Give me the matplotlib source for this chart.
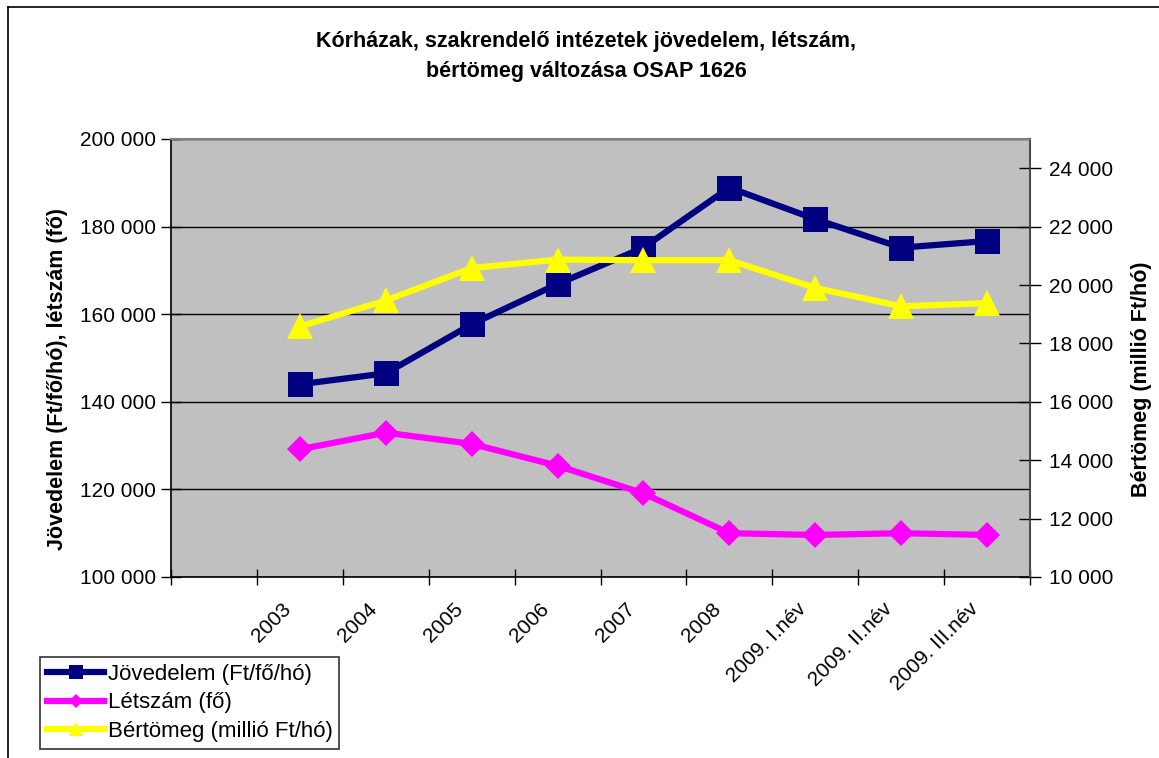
import numpy as np
import matplotlib
matplotlib.use('Agg')
import matplotlib.pyplot as plt
from matplotlib.ticker import FuncFormatter, FixedLocator
from matplotlib.lines import Line2D
import matplotlib.transforms as mtransforms

plt.rcParams['font.family'] = ['Liberation Sans', 'DejaVu Sans']

# Data
categories = ['2003', '2004', '2005', '2006', '2007', '2008',
              '2009. I.név', '2009. II.név', '2009. III.név']
jovedelem = [144000, 146500, 157700, 166900, 175200, 188900, 181700, 175200, 176700]
letszam = [129150, 132950, 130400, 125400, 119100, 110000, 109600, 110000, 109600]
bertomeg = [18580, 19470, 20580, 20870, 20850, 20850, 19900, 19270, 19380]

W, H = 1159, 758
fig = plt.figure(figsize=(W / 100, H / 100), dpi=100)
fig.patch.set_facecolor('white')

# Outer frame (only left and top edges visible)
fig.add_artist(Line2D([8 / W, 8 / W], [0, 1 - 7 / H], transform=fig.transFigure, color='black', lw=1.2))
fig.add_artist(Line2D([8 / W, 1], [1 - 7 / H, 1 - 7 / H], transform=fig.transFigure, color='black', lw=1.2))

left, right, bottom, top = 171 / W, 1030 / W, 1 - 577 / H, 1 - 139 / H
ax = fig.add_axes([left, bottom, right - left, top - bottom])
ax.set_facecolor('#C0C0C0')
ax2 = ax.twinx()

x = np.arange(len(categories))

fmt = FuncFormatter(lambda v, p: '{:,.0f}'.format(v).replace(',', ' '))

l1, = ax.plot(x, jovedelem, color='#000080', lw=4.5, marker='s', ms=18, mew=0,
              label='Jövedelem (Ft/fő/hó)', zorder=3)
l2, = ax.plot(x, letszam, color='#FF00FF', lw=4.5, marker='D', ms=13, mew=0,
              label='Létszám (fő)', zorder=3)
l3, = ax2.plot(x, bertomeg, color='#FFFF00', lw=4.5, marker='^', ms=19, mew=0,
               label='Bértömeg (millió Ft/hó)', zorder=3)

ax.set_ylim(100000, 200000)
ax.set_yticks(np.arange(100000, 200001, 20000))
ax.yaxis.set_major_formatter(fmt)
ax.yaxis.grid(True, color='black', lw=1)
ax.set_axisbelow(True)

ax2.set_ylim(10000, 25000)
ax2.set_yticks(np.arange(10000, 24001, 2000))
ax2.yaxis.set_major_formatter(fmt)

ax.set_xlim(-1.5, len(categories) - 0.5)
ax.xaxis.set_major_locator(FixedLocator(np.arange(-1.5, len(categories), 1.0)))
ax.set_xticklabels([])
ax.set_xticks(x, minor=True)
ax.set_xticklabels(categories, minor=True, rotation=45, ha='right', va='top')
ax.tick_params(axis='x', which='minor', length=0, pad=16, labelsize=15)
ax.tick_params(axis='x', which='major', direction='inout', length=12, width=1)
off = mtransforms.ScaledTranslation(-5 / 100, 0, fig.dpi_scale_trans)
for lab in ax.get_xticklabels(minor=True):
    lab.set_transform(lab.get_transform() + off)

ax.tick_params(axis='y', direction='inout', length=14, width=1, labelsize=15, pad=4)
ax2.tick_params(axis='y', direction='inout', length=16, width=1, labelsize=15, pad=6)

for s in ['left', 'bottom']:
    ax.spines[s].set_color('black')
    ax.spines[s].set_linewidth(1.2)
for s in ['top', 'right']:
    ax.spines[s].set_color('#808080')
    ax.spines[s].set_linewidth(1.5)
ax2.spines['right'].set_color('#404040')
ax2.spines['right'].set_linewidth(1.2)
ax2.spines['top'].set_color('#808080')
ax2.spines['left'].set_visible(False)
ax2.spines['bottom'].set_visible(False)

ax.set_ylabel('Jövedelem (Ft/fő/hó), létszám (fő)', fontsize=15.5, fontweight='bold')
ax.yaxis.set_label_coords(68 / W, 0.5, transform=fig.transFigure)
ax2.set_ylabel('Bértömeg (millió Ft/hó)', fontsize=15.5, fontweight='bold', rotation=90)
ax2.yaxis.set_label_coords(1131 / W, 0.5, transform=fig.transFigure)

fig.text(586 / W, 1 - 42 / H, 'Kórházak, szakrendelő intézetek jövedelem, létszám,',
         ha='center', va='center', fontsize=15.5, fontweight='bold')
fig.text(586 / W, 1 - 72 / H, 'bértömeg változása OSAP 1626',
         ha='center', va='center', fontsize=15.5, fontweight='bold')

leg = fig.legend([l1, l2, l3], [l1.get_label(), l2.get_label(), l3.get_label()],
                 loc='upper left', bbox_to_anchor=(40 / W, 1 - 657 / H),
                 bbox_transform=fig.transFigure, fontsize=16, markerscale=0.55,
                 handlelength=2.6, handletextpad=0.15, labelspacing=0.35,
                 borderpad=0.3, borderaxespad=0, fancybox=False, frameon=True)
leg.get_frame().set_edgecolor('black')
leg.get_frame().set_linewidth(1.2)

fig.savefig('out.png', dpi=100)
